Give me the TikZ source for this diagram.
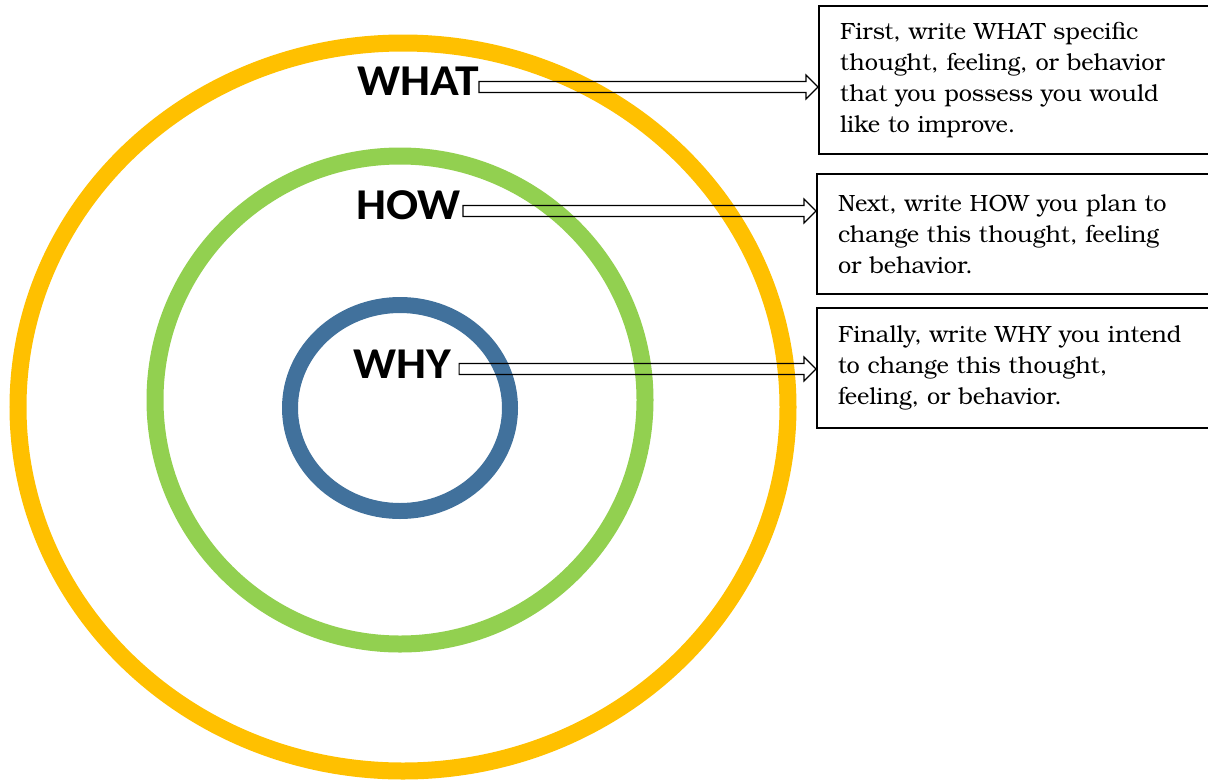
\documentclass[tikz,border=0pt]{standalone}
\usepackage{fontspec}
\usetikzlibrary{calc}
\newfontfamily\ringfont{Carlito}[FakeStretch=1.08]
\newfontfamily\notefont{texgyrebonum-regular.otf}
\definecolor{ringorange}{RGB}{255,192,0}
\definecolor{ringgreen}{RGB}{146,208,80}
\definecolor{ringblue}{RGB}{65,113,156}

\begin{document}
\begin{tikzpicture}[x=1pt,y=-1pt,
    ring/.style={line width=17pt},
    lbl/.style={inner sep=0pt,anchor=base west,
      font=\ringfont\bfseries\fontsize{44}{44}\selectfont},
    notebox/.style={draw,line width=2pt,anchor=north west,inner xsep=21pt,
      inner ysep=0pt,text width=360pt,align=left,
      font=\notefont\fontsize{23.5}{31}\selectfont},
    blockarrow/.style={line width=1.2pt,to path={
      let \p1=(\tikztostart), \p2=(\tikztotarget) in
      (\x1,\y1+5.5pt) -- (\x2-12pt,\y1+5.5pt) -- (\x2-12pt,\y1+12pt)
      -- (\x2,\y1) -- (\x2-12pt,\y1-12pt) -- (\x2-12pt,\y1-5.5pt)
      -- (\x1,\y1-5.5pt) -- cycle}}]
  \useasboundingbox (0,0) rectangle (1208,780);

  % the three rings
  \draw [ring,ringorange] (403,407) ellipse [x radius=385, y radius=364];
  \draw [ring,ringgreen] (400,400) ellipse [x radius=245, y radius=244];
  \draw [ring,ringblue,line width=16pt] (400,408) ellipse [x radius=110, y radius=103];

  \node [lbl] (what) at (357,95) {WHAT};
  \node [lbl] (how) at (356,219) {HOW};
  \node [lbl] (why) at (353,378) {WHY};

  \node [notebox,minimum height=148pt] (box1) at (818,5)
    {First, write WHAT specific\\thought, feeling, or behavior\\that you possess you would\\like to improve.};
  \node [notebox,minimum height=120pt] (box2) at (816,173)
    {Next, write HOW you plan to\\change this thought, feeling\\or behavior.};
  \node [notebox,minimum height=120pt] (box3) at (816,307)
    {Finally, write WHY you intend\\to change this thought,\\feeling, or behavior.};

  \draw [blockarrow] ([yshift=8pt]what.base east) to (box1.west);
  \draw [blockarrow] ([xshift=2pt,yshift=8pt]how.base east) to (box2.west);
  \draw [blockarrow] ([xshift=8pt,yshift=9pt]why.base east) to (box3.west);
\end{tikzpicture}
\end{document}
